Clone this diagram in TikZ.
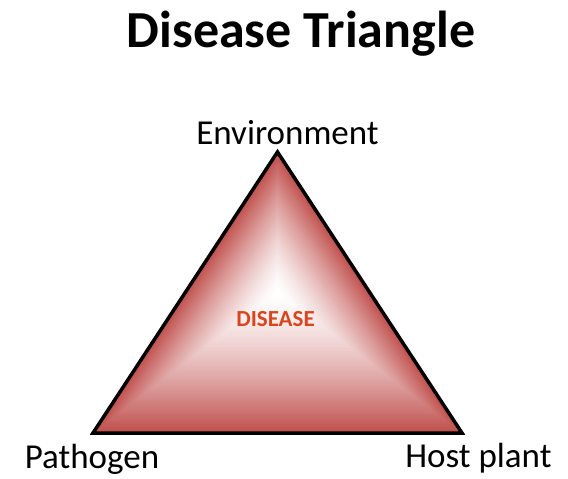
\documentclass[tikz,border=0pt]{standalone}
\usepackage{fontspec}
\setmainfont{Carlito}
\usetikzlibrary{calc}
\definecolor{trired}{HTML}{C0504D}
\definecolor{disorange}{HTML}{D9461E}
\begin{document}
\begin{tikzpicture}[x=1pt, y=-1pt,
    corner/.style={font=\fontsize{35}{38}\selectfont, anchor=base}]
    \useasboundingbox[fill=white] (0,0) rectangle (568,479);

    % Hoekpunten van de driehoek
    \coordinate (apex) at (277.5, 152);
    \coordinate (pleft) at (93, 433);
    \coordinate (pright) at (462, 433);
    \coordinate (ctr) at (277.5, 292);

    % Kleurverloop: geneste driehoeken van rood naar wit
    \foreach \k in {0,...,60} {
        \pgfmathsetmacro\s{1-\k/60}
        \pgfmathsetmacro\pct{int(100*\s^1.4)}
        \fill[trired!\pct!white] ($(ctr)!\s!(apex)$) -- ($(ctr)!\s!(pleft)$) -- ($(ctr)!\s!(pright)$) -- cycle;
    }

    % Rand van de driehoek
    \draw[line width=3.5pt, line join=miter] (apex) -- (pleft) -- (pright) -- cycle;

    % Titel en bijschriften
    \node[font=\fontsize{52}{58}\selectfont\bfseries, anchor=base] (title) at (301, 47) {Disease Triangle};
    \node[corner] (env) at (287.5, 144) {Environment};
    \node[corner] (path) at (92, 468) {Pathogen};
    \node[corner] (host) at (478.5, 467) {Host plant};
    \node[font=\fontsize{23}{26}\selectfont\bfseries, text=disorange, anchor=base] (dis) at (275.5, 326) {DISEASE};
\end{tikzpicture}
\end{document}
